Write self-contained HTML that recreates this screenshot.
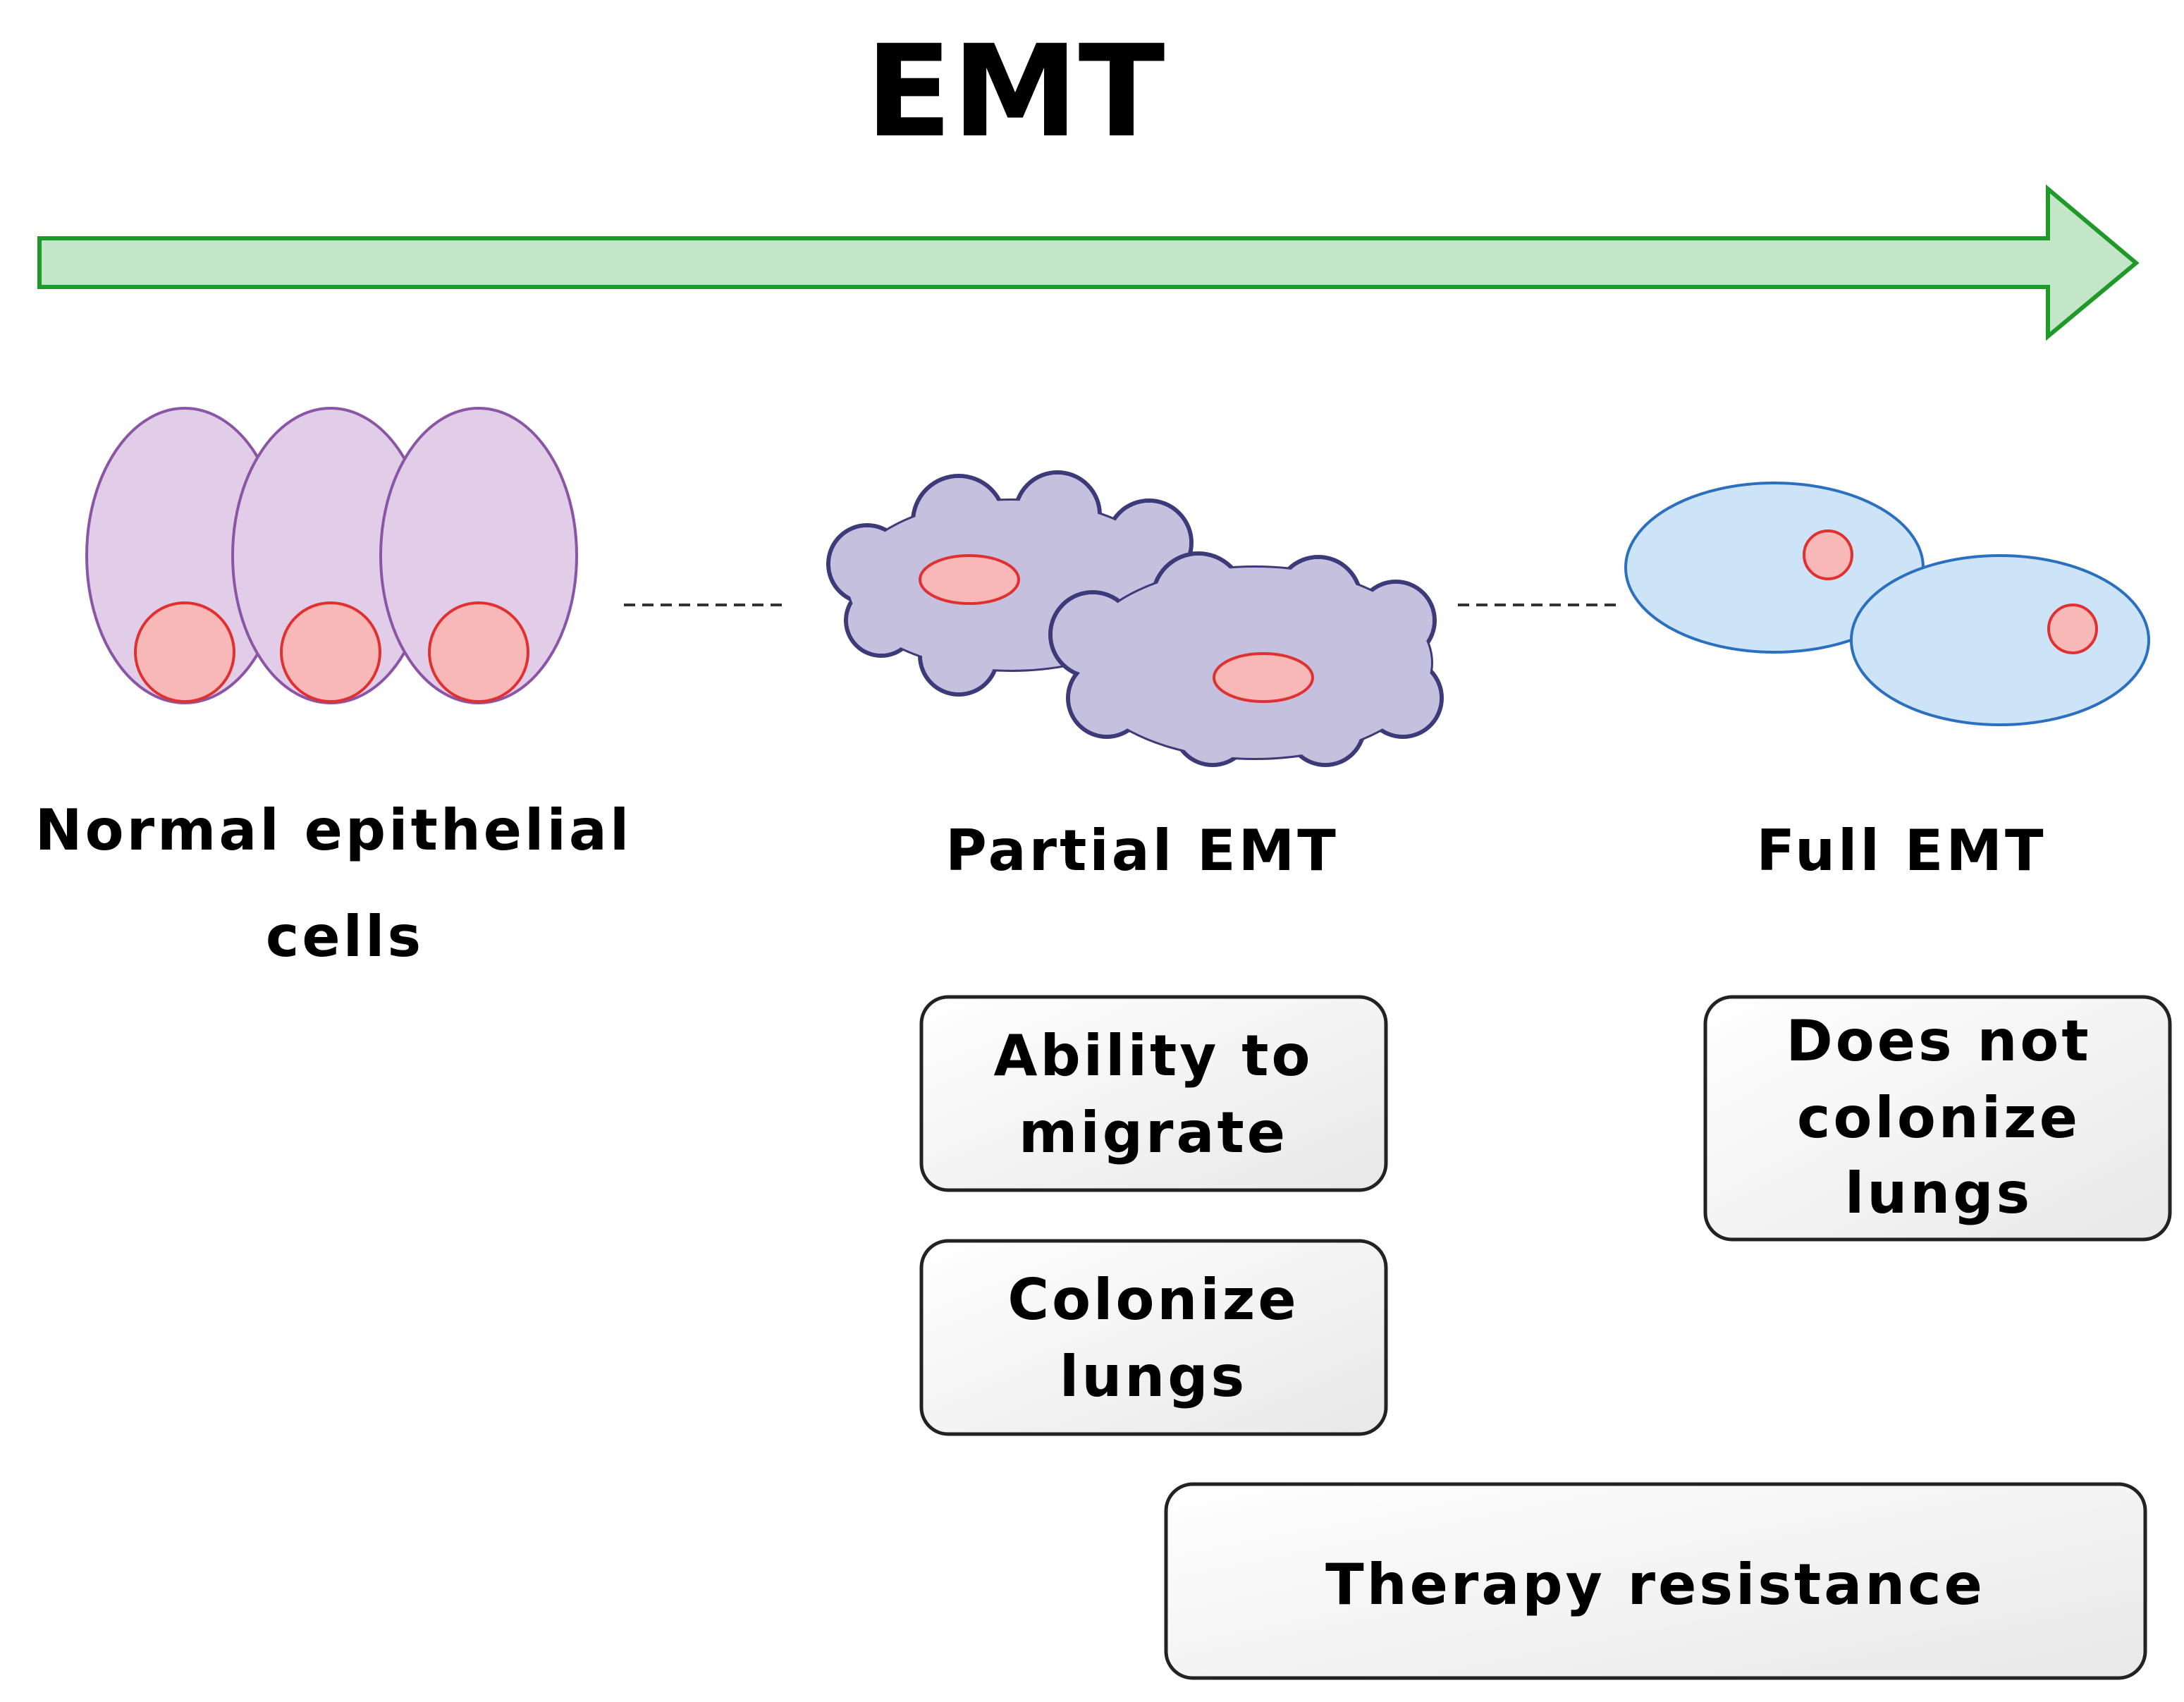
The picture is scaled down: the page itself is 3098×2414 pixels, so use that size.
<!DOCTYPE html>
<html><head><meta charset="utf-8"><style>
html,body{margin:0;padding:0;background:#fff;}
svg{display:block;}
text{font-family:"DejaVu Sans","Liberation Sans",sans-serif;font-weight:bold;fill:#000;letter-spacing:4px;}
</style></head><body>
<svg width="3098" height="2414" viewBox="0 0 3098 2414" xmlns="http://www.w3.org/2000/svg">
<defs>
<linearGradient id="bx" x1="0" y1="0" x2="1" y2="1">
<stop offset="0" stop-color="#ffffff"/><stop offset="1" stop-color="#e8e8e8"/>
</linearGradient>
</defs>
<text x="1440" y="192" font-size="180" text-anchor="middle" font-family="Liberation Sans" style="letter-spacing:0">EMT</text>
<polygon points="56,338 2905,338 2905,268 3030,373 2905,477 2905,407 56,407" fill="#c3e6c8" stroke="#1f9a2a" stroke-width="6"/>
<g fill="#e2cde8" stroke="#8a55a5" stroke-width="4">
<ellipse cx="262" cy="788" rx="139" ry="209"/>
<ellipse cx="469" cy="788" rx="139" ry="209"/>
<ellipse cx="679" cy="788" rx="139" ry="209"/>
</g>
<g fill="#f9b8b8" stroke="#e03030" stroke-width="4">
<circle cx="262" cy="925" r="70"/><circle cx="469" cy="925" r="70"/><circle cx="679" cy="925" r="70"/>
</g>
<g stroke="#333" stroke-width="4" stroke-dasharray="16,10">
<line x1="885" y1="858" x2="1118" y2="858"/>
<line x1="2068" y1="858" x2="2300" y2="858"/>
</g>
<g stroke="#3d3a7a" stroke-width="6" fill="#c5c0de">
<ellipse cx="1434" cy="830" rx="230" ry="120"/>
<circle cx="1230" cy="800" r="55"/><circle cx="1250" cy="880" r="50"/>
<circle cx="1360" cy="740" r="65"/><circle cx="1500" cy="730" r="60"/>
<circle cx="1630" cy="770" r="60"/><circle cx="1660" cy="850" r="55"/>
<circle cx="1360" cy="930" r="55"/>
</g>
<g fill="#c5c0de">
<ellipse cx="1434" cy="830" rx="230" ry="120"/>
<circle cx="1230" cy="800" r="52"/><circle cx="1250" cy="880" r="47"/>
<circle cx="1360" cy="740" r="62"/><circle cx="1500" cy="730" r="57"/>
<circle cx="1630" cy="770" r="57"/><circle cx="1660" cy="850" r="52"/>
<circle cx="1360" cy="930" r="52"/>
</g>
<g stroke="#3d3a7a" stroke-width="6" fill="#c5c0de">
<ellipse cx="1780" cy="940" rx="250" ry="135"/>
<circle cx="1550" cy="900" r="60"/><circle cx="1570" cy="990" r="55"/>
<circle cx="1700" cy="850" r="65"/><circle cx="1870" cy="850" r="60"/>
<circle cx="1980" cy="880" r="55"/><circle cx="1990" cy="990" r="55"/>
<circle cx="1720" cy="1030" r="55"/><circle cx="1880" cy="1030" r="55"/>
</g>
<g fill="#c5c0de">
<ellipse cx="1780" cy="940" rx="250" ry="135"/>
<circle cx="1550" cy="900" r="57"/><circle cx="1570" cy="990" r="52"/>
<circle cx="1700" cy="850" r="62"/><circle cx="1870" cy="850" r="57"/>
<circle cx="1980" cy="880" r="52"/><circle cx="1990" cy="990" r="52"/>
<circle cx="1720" cy="1030" r="52"/><circle cx="1880" cy="1030" r="52"/>
</g>
<g fill="#f9b8b8" stroke="#e03030" stroke-width="4">
<ellipse cx="1375" cy="822" rx="70" ry="34"/>
<ellipse cx="1792" cy="961" rx="70" ry="34"/>
</g>
<g fill="#cde4f8" stroke="#2a6fc0" stroke-width="4">
<ellipse cx="2517" cy="805" rx="211" ry="120"/>
<ellipse cx="2837" cy="908" rx="211" ry="120"/>
</g>
<g fill="#f9b8b8" stroke="#e03030" stroke-width="4">
<circle cx="2593" cy="787" r="34"/><circle cx="2940" cy="892" r="34"/>
</g>
<g font-size="80" text-anchor="middle">
<text x="473" y="1205">Normal epithelial</text>
<text x="489" y="1356">cells</text>
<text x="1620" y="1234">Partial EMT</text>
<text x="2697" y="1234">Full EMT</text>
</g>
<g fill="url(#bx)" stroke="#222" stroke-width="5">
<rect x="1307" y="1414" width="659" height="274" rx="38"/>
<rect x="1307" y="1760" width="659" height="274" rx="38"/>
<rect x="2419" y="1414" width="659" height="344" rx="38"/>
<rect x="1654" y="2105" width="1389" height="275" rx="38"/>
</g>
<g font-size="80" text-anchor="middle">
<text x="1636" y="1525">Ability to</text>
<text x="1636" y="1634">migrate</text>
<text x="1636" y="1871">Colonize</text>
<text x="1636" y="1980">lungs</text>
<text x="2750" y="1504">Does not</text>
<text x="2750" y="1613">colonize</text>
<text x="2750" y="1720">lungs</text>
<text x="2348" y="2275">Therapy resistance</text>
</g>
</svg>
</body></html>
